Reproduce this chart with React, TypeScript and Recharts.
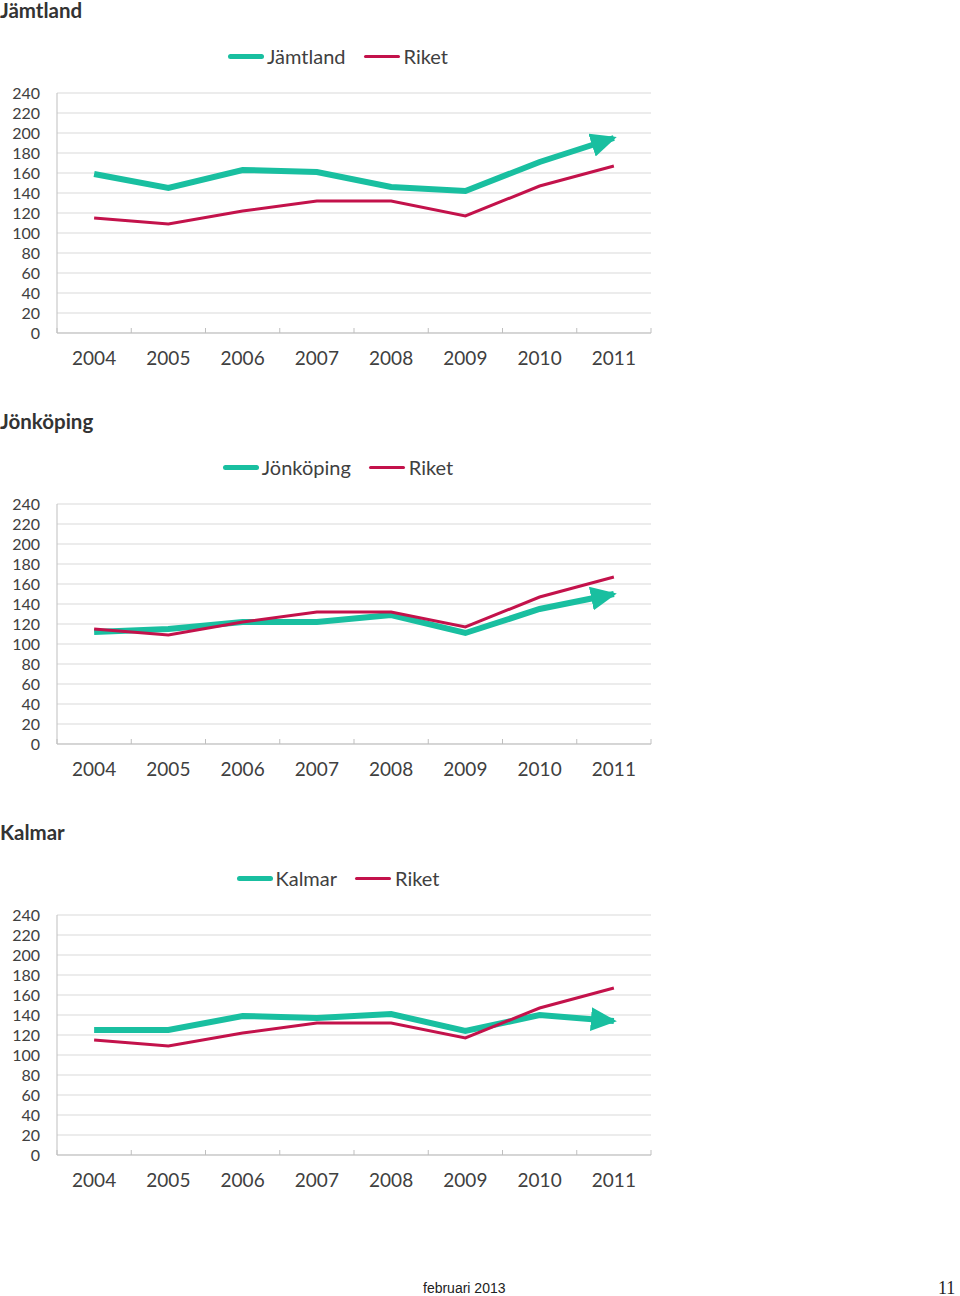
import React from 'react';
import { LineChart, Line, XAxis, YAxis, CartesianGrid } from 'recharts';

const years = ['2004', '2005', '2006', '2007', '2008', '2009', '2010', '2011'];
const yTicks = [0, 20, 40, 60, 80, 100, 120, 140, 160, 180, 200, 220, 240];
const riket = [115, 109, 122, 132, 132, 117, 147, 167];
const jamtland = [159, 145, 163, 161, 146, 142, 171, 195];
const jonkoping = [112, 115, 122, 122, 129, 111, 135, 150];
const kalmar = [125, 125, 139, 137, 141, 124, 140, 134];

const regions = [
  { title: 'Jämtland', name: 'Jämtland', values: jamtland },
  { title: 'Jönköping', name: 'Jönköping', values: jonkoping },
  { title: 'Kalmar', name: 'Kalmar', values: kalmar },
];

const TEAL = '#19bfa0';
const RED = '#c3124b';
const TEXT = '#404040';
const AXIS = '#bfbfbf';
const GRID = '#d9d9d9';

const W = 660;
const H = 380;
const MARGIN = { top: 93, right: 9, bottom: 0, left: 0 };
const YW = 57;
const XH = 47;
const PLOT_W = W - MARGIN.left - MARGIN.right - YW;
const BLOCK = 411;

const XTick = (props: any) => {
  const { x, y, payload, index } = props;
  const bw = PLOT_W / years.length;
  return (
    <g>
      <line x1={x - bw / 2} y1={y} x2={x - bw / 2} y2={y - 5} stroke={AXIS} strokeWidth={1} />
      {index === years.length - 1 && (
        <line x1={x + bw / 2} y1={y} x2={x + bw / 2} y2={y - 5} stroke={AXIS} strokeWidth={1} />
      )}
      <text x={x} y={y + 24} textAnchor="middle" dominantBaseline="central" fill={TEXT} fontSize={19} fontFamily="Lato">
        {payload.value}
      </text>
    </g>
  );
};

const Legend = ({ name, top }: { name: string; top: number }) => (
  <div
    style={{
      position: 'absolute',
      top: top + 56 - 12,
      left: 0,
      width: 676,
      height: 24,
      display: 'flex',
      justifyContent: 'center',
      alignItems: 'center',
      fontFamily: 'Lato',
      fontSize: 20,
      color: TEXT,
    }}
  >
    <div style={{ width: 36, height: 5, borderRadius: 3, background: TEAL, marginRight: 3 }} />
    <span>{name}</span>
    <div style={{ width: 36, height: 3, borderRadius: 2, background: RED, marginLeft: 18, marginRight: 4 }} />
    <span>Riket</span>
  </div>
);

const RegionChart = ({ idx }: { idx: number }) => {
  const r = regions[idx];
  const top = idx * BLOCK;
  const data = years.map((y, i) => ({ year: y, region: r.values[i], riket: riket[i] }));
  return (
    <>
      <div
        style={{
          position: 'absolute',
          top: top,
          left: 0,
          height: 20,
          lineHeight: '20px',
          fontFamily: 'Lato',
          fontWeight: 700,
          fontSize: 20.5,
          color: '#333',
        }}
      >
        {r.title}
      </div>
      <Legend name={r.name} top={top} />
      <div style={{ position: 'absolute', top: top, left: 0 }}>
        <LineChart width={W} height={H} data={data} margin={MARGIN}>
          <CartesianGrid vertical={false} stroke={GRID} strokeWidth={1} />
          <XAxis
            dataKey="year"
            scale="band"
            height={XH}
            tickLine={false}
            tickSize={0}
            tickMargin={0}
            axisLine={{ stroke: AXIS }}
            tick={XTick}
            interval={0}
          />
          <YAxis
            width={YW}
            domain={[0, 240]}
            ticks={yTicks}
            interval={0}
            tickLine={false}
            tickSize={0}
            tickMargin={17}
            axisLine={{ stroke: AXIS }}
            tick={{ fill: TEXT, fontSize: 16, fontFamily: 'Lato' }}
          />
          <Line
            type="linear"
            dataKey="region"
            stroke={TEAL}
            strokeWidth={6}
            dot={false}
            activeDot={false}
            isAnimationActive={false}
            markerEnd="url(#arrowTeal)"
          />
          <Line
            type="linear"
            dataKey="riket"
            stroke={RED}
            strokeWidth={3}
            dot={false}
            activeDot={false}
            isAnimationActive={false}
          />
        </LineChart>
      </div>
    </>
  );
};

export default function App() {
  return (
    <div style={{ position: 'absolute', left: 0, top: 0, width: 960, height: 1296, background: '#fff' }}>
      <svg width={0} height={0} style={{ position: 'absolute' }}>
        <defs>
          <marker
            id="arrowTeal"
            markerUnits="userSpaceOnUse"
            markerWidth={26}
            markerHeight={24}
            refX={23}
            refY={12}
            orient="auto"
            viewBox="0 0 26 24"
          >
            <path d="M0,0 L26,12 L0,24 Z" fill={TEAL} />
          </marker>
        </defs>
      </svg>
      <RegionChart idx={0} />
      <RegionChart idx={1} />
      <RegionChart idx={2} />
      <div
        style={{
          position: 'absolute',
          left: 423,
          top: 1279,
          fontFamily: 'Liberation Sans',
          fontSize: 14,
          lineHeight: '18px',
          color: '#222',
        }}
      >
        februari 2013
      </div>
      <div
        style={{
          position: 'absolute',
          left: 938,
          top: 1278,
          fontFamily: 'Liberation Serif',
          fontSize: 18,
          lineHeight: '20px',
          color: '#222',
        }}
      >
        11
      </div>
    </div>
  );
}
